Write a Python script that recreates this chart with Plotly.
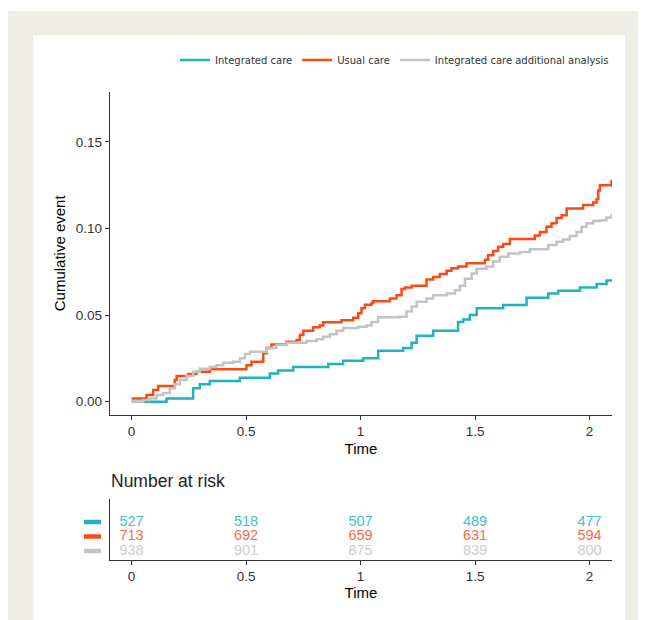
import plotly.graph_objects as go

# ---------------- data ----------------
ic_time = [0, 0.153, 0.269, 0.298, 0.342, 0.473, 0.604, 0.640, 0.706, 0.859, 0.924, 1.012,
           1.077, 1.186, 1.223, 1.245, 1.317, 1.426, 1.448, 1.477, 1.507, 1.623, 1.725,
           1.820, 1.863, 1.958, 2.031, 2.074, 2.10]
ic_event = [0, 0.0019, 0.0077, 0.010, 0.012, 0.0138, 0.0163, 0.018, 0.020, 0.0217, 0.0237, 0.025,
            0.0294, 0.031, 0.034, 0.038, 0.041, 0.046, 0.0475, 0.050, 0.054, 0.0558, 0.060,
            0.0625, 0.064, 0.066, 0.068, 0.070, 0.070]

uc_time = [0, 0.0655, 0.0946, 0.116, 0.189, 0.197, 0.247, 0.284, 0.342, 0.502, 0.524, 0.575,
           0.590, 0.611, 0.677, 0.721, 0.735, 0.750, 0.793, 0.822, 0.837, 0.917, 0.968, 0.990,
           1.004, 1.019, 1.048, 1.055, 1.128, 1.157, 1.179, 1.194, 1.223, 1.288, 1.317, 1.346,
           1.376, 1.397, 1.426, 1.463, 1.543, 1.557, 1.579, 1.601, 1.623, 1.652, 1.761, 1.783,
           1.812, 1.834, 1.856, 1.878, 1.900, 1.972, 2.016, 2.031, 2.038, 2.045, 2.096, 2.10]
uc_event = [0.0019, 0.0038, 0.0067, 0.009, 0.0125, 0.0148, 0.016, 0.0173, 0.0187, 0.021, 0.023, 0.0279,
            0.031, 0.033, 0.0346, 0.0356, 0.0385, 0.041, 0.043, 0.044, 0.0458, 0.047, 0.0485, 0.051,
            0.054, 0.056, 0.057, 0.058, 0.0596, 0.0615, 0.065, 0.066, 0.067, 0.0706, 0.072, 0.0737,
            0.0756, 0.077, 0.078, 0.080, 0.082, 0.0846, 0.087, 0.0894, 0.091, 0.094, 0.096, 0.098,
            0.101, 0.103, 0.106, 0.1077, 0.1115, 0.1135, 0.115, 0.117, 0.122, 0.125, 0.1275, 0.1275]

ica_time = [0, 0.051, 0.080, 0.109, 0.138, 0.167, 0.189, 0.211, 0.240, 0.269, 0.298, 0.342,
            0.371, 0.400, 0.444, 0.473, 0.495, 0.517, 0.590, 0.633, 0.677, 0.764, 0.808, 0.837,
            0.866, 0.895, 0.924, 0.990, 1.026, 1.048, 1.077, 1.172, 1.201, 1.223, 1.245, 1.288,
            1.317, 1.376, 1.412, 1.434, 1.456, 1.485, 1.507, 1.550, 1.579, 1.608, 1.645, 1.696,
            1.739, 1.820, 1.856, 1.885, 1.914, 1.943, 1.965, 1.987, 2.016, 2.045, 2.074, 2.096, 2.10]
ica_event = [0, 0.001, 0.0019, 0.0038, 0.005, 0.0077, 0.010, 0.0125, 0.0148, 0.0173, 0.019, 0.020,
             0.021, 0.0225, 0.023, 0.025, 0.0275, 0.0288, 0.031, 0.0327, 0.034, 0.035, 0.036, 0.0375,
             0.039, 0.041, 0.0425, 0.0433, 0.044, 0.046, 0.0487, 0.049, 0.052, 0.055, 0.0577, 0.0596,
             0.0615, 0.0625, 0.0644, 0.067, 0.071, 0.074, 0.0767, 0.078, 0.081, 0.0837, 0.0856, 0.0865,
             0.088, 0.0904, 0.0923, 0.0937, 0.0956, 0.098, 0.101, 0.103, 0.1044, 0.1048, 0.1063, 0.1077, 0.1077]

risk_times = [0, 0.5, 1, 1.5, 2]
risk_ic = [527, 518, 507, 489, 477]
risk_uc = [713, 692, 659, 631, 594]
risk_ica = [938, 901, 875, 839, 800]

x_ticks = [0, 0.5, 1, 1.5, 2]
x_ticklabels = ["0", "0.5", "1", "1.5", "2"]
y_ticks = [0.00, 0.05, 0.10, 0.15]
y_ticklabels = ["0.00", "0.05", "0.10", "0.15"]

series_names = ["Integrated care", "Usual care", "Integrated care additional analysis"]
line_colors = ["#1DB3BF", "#FC4A17", "#C3C3C3"]
risk_colors = ["#3EC3CE", "#FC6A45", "#CDCDCD"]
risk_rows = [3, 2, 1]

# ---------------- figure ----------------
# page has an 8px body margin; the figure occupies page pixels 8..646 x 8..620
OFF = 8
W, H = 646 - OFF, 620 - OFF
def px_x(p):
    return (p - OFF) / W
def px_y(p):
    return (H - (p - OFF)) / H

fig = go.Figure()

for t, e, name, col in zip([ic_time, uc_time, ica_time], [ic_event, uc_event, ica_event],
                           series_names, line_colors):
    fig.add_trace(go.Scatter(x=t, y=e, mode="lines", name=name, line=dict(color=col, width=2.5, shape="hv"),
                             xaxis="x", yaxis="y", hoverinfo="skip"))

for vals, col, row in zip([risk_ic, risk_uc, risk_ica], risk_colors, risk_rows):
    fig.add_trace(go.Scatter(x=risk_times, y=[row] * len(risk_times), mode="text",
                             text=[str(v) for v in vals],
                             textfont=dict(family="Liberation Sans, Arial", size=14.5, color=col),
                             textposition="middle center", showlegend=False,
                             xaxis="x2", yaxis="y2", hoverinfo="skip"))

shapes = [
    dict(type="rect", xref="paper", yref="paper", x0=px_x(8), x1=1.01, y0=-0.01, y1=px_y(11),
         fillcolor="#EFEEE4", line=dict(width=0), layer="below"),
    dict(type="rect", xref="paper", yref="paper", x0=px_x(33), x1=px_x(625), y0=-0.01, y1=px_y(35),
         fillcolor="white", line=dict(width=0), layer="below"),
]
for col, row in zip(line_colors, risk_rows):
    shapes.append(dict(type="line", xref="paper", yref="y2", x0=px_x(84), x1=px_x(101), y0=row, y1=row,
                       line=dict(color=col, width=4.5)))

axis_common = dict(showline=True, linecolor="#333333", linewidth=1.4, ticks="outside", ticklen=4,
                   tickcolor="#333333", tickwidth=1.2, showgrid=False, zeroline=False,
                   tickfont=dict(family="Liberation Sans, Arial", size=13.5, color="#333333"))

fig.update_layout(
    width=W, height=H,
    margin=dict(l=0, r=0, t=0, b=0),
    paper_bgcolor="white", plot_bgcolor="rgba(0,0,0,0)",
    font=dict(family="Liberation Sans, Arial", color="black"),
    shapes=shapes,
    showlegend=True,
    legend=dict(orientation="h", x=px_x(614), xanchor="right", y=px_y(60), yanchor="middle",
                font=dict(family="DejaVu Sans", size=10, color="#333333"),
                itemwidth=30, bgcolor="rgba(0,0,0,0)", tracegroupgap=0),
    xaxis=dict(domain=[px_x(110), px_x(612)], range=[-0.094, 2.098], anchor="y",
               tickvals=x_ticks, ticktext=x_ticklabels,
               title=dict(text="Time", font=dict(size=15, color="black"), standoff=5), **axis_common),
    yaxis=dict(domain=[px_y(415), px_y(91.7)], range=[-0.0077, 0.179], anchor="x",
               tickvals=y_ticks, ticktext=y_ticklabels,
               title=dict(text="Cumulative event", font=dict(size=15, color="black"), standoff=6),
               **axis_common),
    xaxis2=dict(domain=[px_x(110), px_x(612)], range=[-0.094, 2.098], anchor="y2",
                tickvals=x_ticks, ticktext=x_ticklabels,
                title=dict(text="Time", font=dict(size=15, color="black"), standoff=3), **axis_common),
    yaxis2=dict(domain=[px_y(559.5), px_y(499)], range=[0.414, 4.586], anchor="x2",
                showline=True, linecolor="#333333", linewidth=1.4, ticks="", showticklabels=False,
                showgrid=False, zeroline=False),
    annotations=[dict(text="Number at risk", xref="paper", yref="paper", x=px_x(109), y=px_y(481),
                      xanchor="left", yanchor="middle", showarrow=False,
                      font=dict(family="Liberation Sans, Arial", size=17.5, color="#222222"))],
)

fig.write_html("out.html")
